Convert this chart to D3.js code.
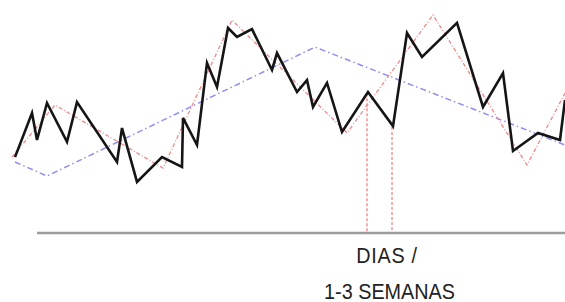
<!DOCTYPE html>
<html><head><meta charset="utf-8">
<script src="https://cdn.jsdelivr.net/npm/d3@7"></script>
<style>html,body{margin:0;padding:0;background:#fff;}svg{display:block;}</style>
</head><body>
<svg id="c" width="565" height="302"></svg>
<script>
// Price (black) series: day, price
const priceDays = [0,3.4,4.4,6.4,10.4,12.4,20.4,21.4,24.4,29.4,33.4,33.6,36.4,38.4,40.4,42.6,44.4,47.4,51.4,52.4,56.4,58.4,59.6,62.4,65.4,70.6,75.6,78.4,81.4,88.4,93.6,97.6,99.6,104.6,109,110];
const priceVals = [34.5,54.5,42.3,59.1,41.4,59.5,32.3,47.7,23.2,34.5,30,52.3,40,77.3,66.4,93.2,89.1,92.7,74.1,81.8,64.1,69.5,57.3,68.2,45.9,64.1,48.6,90.9,80,95.5,57.3,72.7,37.3,45.5,42.3,60.5];
// Short-term trend (red dash-dot)
const shortDays = [-0.6,8,29.6,43.4,66.4,83.6,102.4,110];
const shortVals = [34.5,58.2,29.5,96.8,45.5,99.1,30.9,63.6];
// Medium-term trend (blue dash-dot)
const midDays = [0,6.4,60,110];
const midVals = [32.3,25.9,84.5,40];
// Marker verticals
const markerDays = [70.4,75.4];
const markerTops = [63.5,48.2];
// Axis
const axisStart = 4.4, axisEnd = 110;
const labels = ["DIAS /", "1-3 SEMANAS"];

const svg = d3.select("#c");
const x = d3.scaleLinear().domain([0,110]).range([15,565]);
const y = d3.scaleLinear().domain([0,100]).range([233,13]);
const line = d3.line().x(d=>x(d[0])).y(d=>y(d[1]));

// axis line
svg.append("line").attr("x1",x(axisStart)).attr("x2",x(axisEnd)).attr("y1",y(0)).attr("y2",y(0))
  .attr("stroke","#9c9c9c").attr("stroke-width",2.5);

// markers
markerDays.forEach((d,i)=>{
  svg.append("line").attr("x1",x(d)).attr("x2",x(d)).attr("y1",y(markerTops[i])).attr("y2",y(0)-1)
    .attr("stroke","#f25a5a").attr("stroke-width",1).attr("stroke-dasharray","3,2");
});

// blue medium trend
svg.append("path").datum(midDays.map((d,i)=>[d,midVals[i]])).attr("d",line)
  .attr("fill","none").attr("stroke","#8f8ff2").attr("stroke-width",1.5).attr("stroke-dasharray","6,3,1.5,3");

// red short trend
svg.append("path").datum(shortDays.map((d,i)=>[d,shortVals[i]])).attr("d",line)
  .attr("fill","none").attr("stroke","#f08a8a").attr("stroke-width",1.3).attr("stroke-dasharray","4,2,1,2");

// price
svg.append("path").datum(priceDays.map((d,i)=>[d,priceVals[i]])).attr("d",line)
  .attr("fill","none").attr("stroke","#151515").attr("stroke-width",2.6).attr("stroke-linejoin","miter");

// labels (slightly condensed, tall glyphs)
const lab = svg.append("g").attr("font-family","Liberation Sans, Arial, sans-serif").attr("fill","#222");
lab.append("text").attr("transform","translate(387,263) scale(0.9,1)").attr("text-anchor","middle")
  .attr("font-size",22).attr("letter-spacing","0.8").text(labels[0]);
lab.append("text").attr("transform","translate(389.5,299) scale(0.9,1)").attr("text-anchor","middle")
  .attr("font-size",22).attr("letter-spacing","0").text(labels[1]);
</script>
</body></html>
